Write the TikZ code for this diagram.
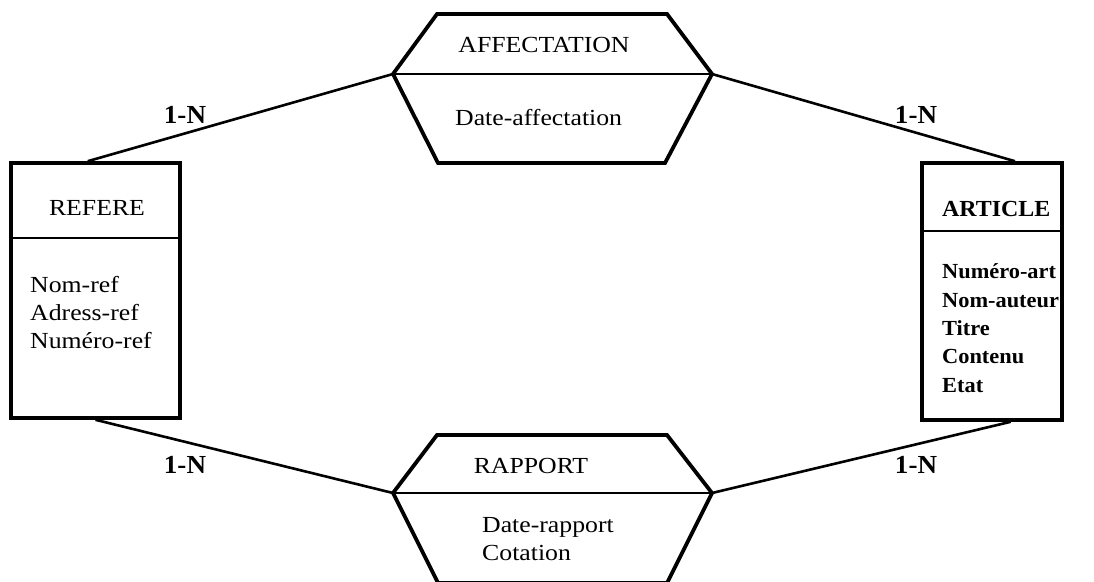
\documentclass[tikz,border=0pt]{standalone}
\usepackage{fontspec}
\setmainfont[FakeStretch=1.12,BoldFeatures={FakeStretch=1.04}]{Liberation Serif}
\usetikzlibrary{calc}
\begin{document}
\begin{tikzpicture}[x=1pt,y=-1pt,
  entbox/.style={draw,line width=3.6pt,rectangle,inner sep=0pt},
  divider/.style={line width=1.9pt},
  hexa/.style={line width=3.8pt,line join=miter},
  link/.style={line width=2.6pt},
  txt/.style={inner sep=0pt,font=\fontsize{23}{27}\selectfont},
  attr/.style={txt,anchor=base west},
  battr/.style={attr,font=\fontsize{21.5}{26}\selectfont\bfseries},
  card/.style={txt,anchor=base,font=\fontsize{26}{30}\selectfont\bfseries}]
\useasboundingbox (0,0) rectangle (1094,581);
\clip (0,0) rectangle (1094,581);

% entity REFERE
\node[entbox,minimum width=169pt,minimum height=255pt] (refere) at (95.5,290.5) {};
\draw[divider] (refere.west |- 0,238) coordinate (rdl) -- (refere.east |- 0,238) coordinate (rdr);
\node[txt,anchor=base] (refname) at (97,215) {REFERE};
\node[attr] (r1) at (30,292) {Nom-ref};
\node[attr] (r2) at (30,320) {Adress-ref};
\node[attr] (r3) at (30,348) {Numéro-ref};

% entity ARTICLE
\node[entbox,minimum width=140pt,minimum height=257pt] (article) at (992,291.5) {};
\draw[divider] (article.west |- 0,231) coordinate (adl) -- (article.east |- 0,231) coordinate (adr);
\node[battr,font=\fontsize{23}{27}\selectfont\bfseries] (artname) at (942,216) {ARTICLE};
\node[battr] (a1) at (942,278) {Numéro-art};
\node[battr] (a2) at (942,307) {Nom-auteur};
\node[battr] (a3) at (942,335) {Titre};
\node[battr] (a4) at (942,363) {Contenu};
\node[battr] (a5) at (942,392) {Etat};

% relationship AFFECTATION
\coordinate (affL) at (393,74);
\coordinate (affR) at (712,74);
\draw[hexa] (437,14) -- (667,14) -- (affR) -- (665,163) -- (438,163) -- (affL) -- cycle;
\draw[divider] (affL) -- (affR);
\node[txt,anchor=base] (affname) at (544,52) {AFFECTATION};
\node[attr] (f1) at (455,125) {Date-affectation};

% relationship RAPPORT
\coordinate (rapL) at (393,493);
\coordinate (rapR) at (712,493);
\draw[hexa] (437,435) -- (667,435) -- (rapR) -- (667,583) -- (438,583) -- (rapL) -- cycle;
\draw[divider] (rapL) -- (rapR);
\node[txt,anchor=base] (rapname) at (531,473) {RAPPORT};
\node[attr] (p1) at (482,532) {Date-rapport};
\node[attr] (p2) at (482,560) {Cotation};

% links
\coordinate (rTop) at ($(refere.north west)!0.455!(refere.north east)$);
\coordinate (rBot) at ($(refere.south west)!0.5!(refere.south east)$);
\coordinate (aTop) at ($(article.north west)!0.66!(article.north east)$);
\coordinate (aBot) at ($(article.south west)!0.63!(article.south east)$);
\draw[link] (rTop) -- (affL);
\draw[link] (affR) -- (aTop);
\draw[link] (rBot) -- (rapL);
\draw[link] (rapR) -- (aBot);

% cardinalities
\node[card] (c1) at (185,123) {1-N};
\node[card] (c2) at (916,123) {1-N};
\node[card] (c3) at (185,473) {1-N};
\node[card] (c4) at (916,473) {1-N};
\end{tikzpicture}
\end{document}
